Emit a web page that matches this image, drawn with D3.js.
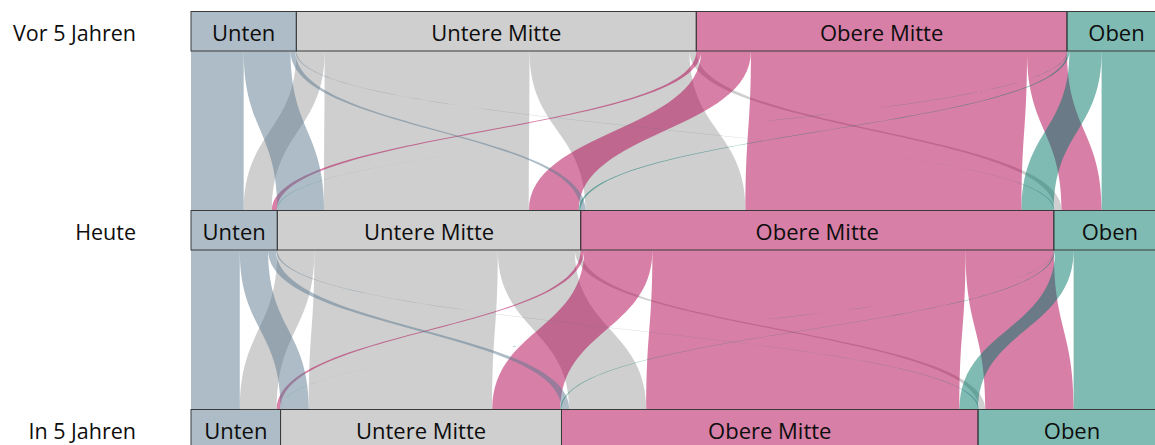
<!DOCTYPE html>
<html>
<head>
<meta charset="utf-8">
<script src="https://cdn.jsdelivr.net/npm/d3@7"></script>
<style>
  body { margin: 0; background: #fff; overflow: hidden; }
  text { font-family: "Open Sans", sans-serif; fill: #0d0d0d; }
</style>
</head>
<body>
<div id="chart"></div>
<script>
"use strict";

var categories = ["Unten", "Untere Mitte", "Obere Mitte", "Oben"];
var dimensions = ["Vor 5 Jahren", "Heute", "In 5 Jahren"];

// Anteil der Befragten in %, Zeile = von, Spalte = nach
var vorZuHeute = [
  [5.4, 4.8, 0.5, 0.1],
  [2.9, 21.0, 16.4, 0.7],
  [0.5, 5.1, 28.3, 4.1],
  [0.05, 0.2, 3.3, 6.6]
];
var heuteZuIn5 = [
  [5.0, 2.9, 0.8, 0.15],
  [3.8, 18.8, 7.9, 0.6],
  [0.35, 7.0, 32.1, 9.05],
  [0.03, 0.1, 1.9, 9.47]
];

var colors = ["#5b798f", "#9f9f9f", "#af004d", "#007567"];

var width = 1155,
    height = 445,
    barH = 39.5,
    rowY = [11.5, 210.5, 409.5];

var svg = d3.select("#chart")
            .append("svg")
            .attr("width", width)
            .attr("height", height)

function rowSums(m) { return m.map(function(r) { return d3.sum(r) }) }
function colSums(m) { return categories.map(function(c, j) { return d3.sum(m, function(r) { return r[j] }) }) }

var totals = [rowSums(vorZuHeute), colSums(vorZuHeute), colSums(heuteZuIn5)];
var sections = [vorZuHeute, heuteZuIn5];

var x = d3.scaleLinear()
          .domain([0, d3.sum(totals[0])])
          .range([191, 1166]);

function starts(t) {
  var acc = 0;
  return t.map(function(v) { var s = acc; acc += v; return s })
}

function ribbonPath(sx, sy, sdx, tx, ty, tdx) {
  var m = (sy + ty) / 2, p = d3.path();
  p.moveTo(sx, sy);
  p.bezierCurveTo(sx, m, tx, m, tx, ty);
  p.lineTo(tx + tdx, ty);
  p.bezierCurveTo(tx + tdx, m, sx + sdx, m, sx + sdx, sy);
  p.closePath();
  return p.toString();
}

// draw order: grey first, then pink, blue, teal on top
var drawOrder = [1, 2, 0, 3];

sections.forEach(function(m, s) {
  var up = starts(totals[s]), low = starts(totals[s + 1]);
  var ribbons = [];
  drawOrder.forEach(function(i) {
    categories.forEach(function(c, j) {
      var so = up[i] + d3.sum(m[i].slice(0, j));
      var to = low[j] + d3.sum(m.slice(0, i), function(r) { return r[j] });
      ribbons.push({ i: i, j: j, so: so, to: to, v: m[i][j] });
    })
  })
  var sy = rowY[s] + barH, ty = rowY[s + 1];
  svg.append("g")
     .attr("class", "ribbons")
     .selectAll("path")
     .data(ribbons)
     .enter()
     .append("path")
     .attr("d", function(d) {
        return ribbonPath(x(d.so), sy, x(d.v) - x(0), x(d.to), ty, x(d.v) - x(0))
     })
     .attr("fill", function(d) { return colors[d.i] })
     .attr("fill-opacity", 0.5)
})

dimensions.forEach(function(dim, r) {
  var st = starts(totals[r]);
  var g = svg.append("g").attr("class", "dimension");

  g.selectAll("rect")
   .data(categories)
   .enter()
   .append("rect")
   .attr("x", function(c, k) { return x(st[k]) })
   .attr("y", rowY[r])
   .attr("width", function(c, k) { return x(totals[r][k]) - x(0) })
   .attr("height", barH)
   .attr("fill", function(c, k) { return colors[k] })
   .attr("fill-opacity", 0.5)
   .attr("stroke", "#3a3a3a")
   .attr("stroke-width", 1)

  g.selectAll(".cat")
   .data(categories)
   .enter()
   .append("text")
   .attr("class", "cat")
   .attr("x", function(c, k) { return x(st[k] + totals[r][k] / 2) })
   .attr("y", rowY[r] + barH / 2 + 1)
   .attr("text-anchor", "middle")
   .attr("dominant-baseline", "central")
   .style("font-size", "22px")
   .text(function(c) { return c })

  g.append("text")
   .attr("x", 136)
   .attr("y", rowY[r] + barH / 2 + 1)
   .attr("text-anchor", "end")
   .attr("dominant-baseline", "central")
   .style("font-size", "21.5px")
   .text(dim)
})
</script>
</body>
</html>
